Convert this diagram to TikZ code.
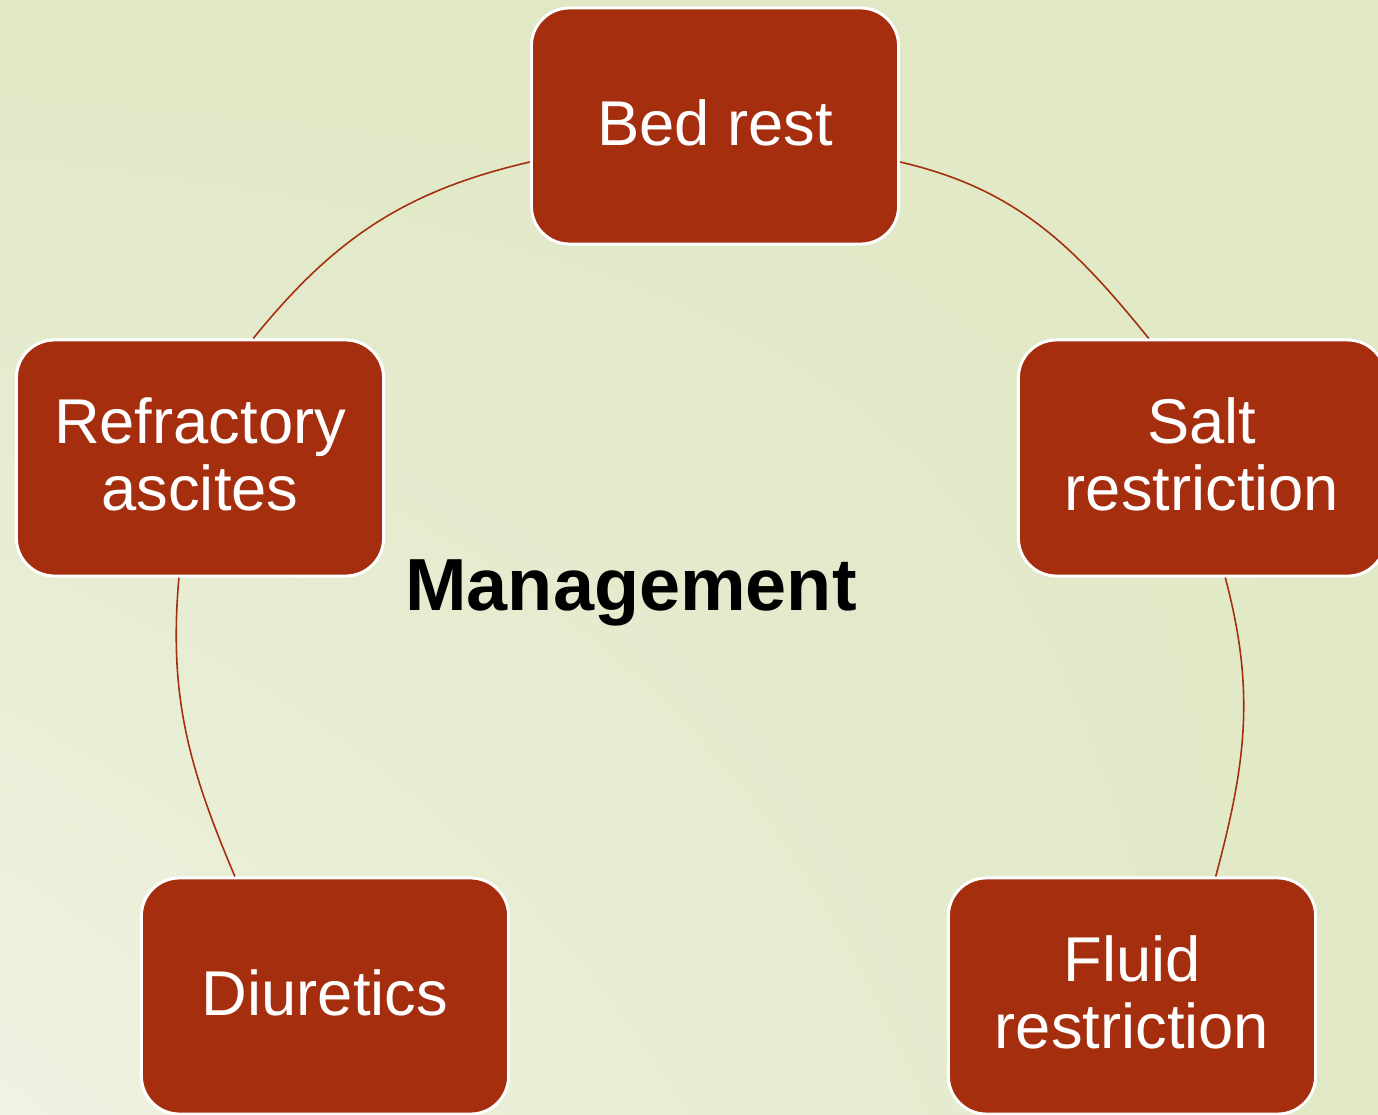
\documentclass[tikz,border=0pt]{standalone}
\usepackage{fontspec}
\setmainfont{Liberation Sans}
\usepackage{xcolor}
\usetikzlibrary{shapes,positioning,calc,shadings}
\definecolor{ascitesRed}{RGB}{165,46,15}
\definecolor{paleGreen}{RGB}{224,232,197}
\definecolor{paleCream}{RGB}{239,243,226}

\begin{document}
\begin{tikzpicture}[x=0.01cm,y=0.01cm,
    stage/.style={draw=white, line width=0.85pt, fill=ascitesRed, rounded corners=0.38cm,
        minimum width=3.67cm, minimum height=2.36cm, align=center, text=white,
        text depth=2.2pt, font=\fontsize{18}{19}\selectfont},
    link/.style={draw=ascitesRed, line width=0.45pt}]
                    % page and its faded corner
                    \clip (0,0) rectangle (1378,-1115);
                    \shade[lower left=paleCream, upper left=paleGreen, upper right=paleGreen, lower right=paleGreen]
                        (0,0) rectangle (1378,-1115);

                    \node[stage] (bed) at (715,-126) {Bed rest};
                    \node[stage] (salt) at (1202,-458) {Salt\\restriction};
                    \node[stage] (fluid) at (1132,-996) {Fluid\\restriction};
                    \node[stage] (diur) at (325,-996) {Diuretics};
                    \node[stage] (refr) at (200,-458) {Refractory\\ascites};

                    \node[anchor=base, font=\fontsize{21}{22}\selectfont\bfseries] (mgmt) at (631,-610) {Management};

                    % ring between the stages
                    \draw[link] (bed.191) to[out=193,in=51] (refr.66);
                    \draw[link] (bed.349) to[out=-13,in=129] (salt.114);
                    \draw[link] (refr.260) to[out=265,in=113] (diur.127);
                    \draw[link] (salt.281) to[out=285,in=75] (fluid.55);
                \end{tikzpicture}
\end{document}
